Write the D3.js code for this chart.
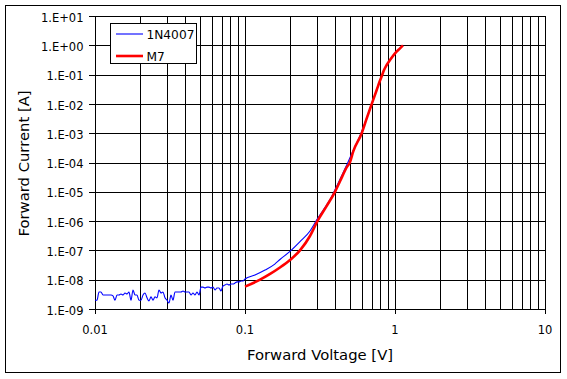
<!DOCTYPE html>
<html>
<head>
<meta charset="utf-8">
<script src="https://cdn.jsdelivr.net/npm/d3@7/dist/d3.min.js"></script>
<style>
  html, body { margin: 0; padding: 0; background: #fff; }
  svg { display: block; }
  text { font-family: "DejaVu Sans", Verdana, sans-serif; fill: #000; }
</style>
</head>
<body>
<svg id="chart" width="567" height="379"></svg>
<script>
// ---------- data ----------
const seriesNames = ["1N4007", "M7"];
const seriesColors = ["#0000ff", "#ff0000"];

const xTickValues = [0.01, 0.1, 1, 10];
const xTickLabels = ["0.01", "0.1", "1", "10"];
const yTickValues = [1e1, 1e0, 1e-1, 1e-2, 1e-3, 1e-4, 1e-5, 1e-6, 1e-7, 1e-8, 1e-9];
const yTickLabels = ["1.E+01", "1.E+00", "1.E-01", "1.E-02", "1.E-03", "1.E-04",
                     "1.E-05", "1.E-06", "1.E-07", "1.E-08", "1.E-09"];

// 1N4007 forward voltage [V]
const v1N4007 = [
  0.01000, 0.01031, 0.01063, 0.01096, 0.01131, 0.01166, 0.01202, 0.01240, 0.01279, 0.01318,
  0.01359, 0.01402, 0.01445, 0.01490, 0.01537, 0.01585, 0.01634, 0.01685, 0.01738, 0.01792,
  0.01848, 0.01905, 0.01965, 0.02026, 0.02089, 0.02154, 0.02222, 0.02291, 0.02362, 0.02436,
  0.02512, 0.02590, 0.02671, 0.02754, 0.02840, 0.02929, 0.03020, 0.03114, 0.03211, 0.03311,
  0.03415, 0.03521, 0.03631, 0.03744, 0.03861, 0.03981, 0.04105, 0.04233, 0.04365, 0.04501,
  0.04642, 0.04786, 0.04936, 0.05090, 0.05248, 0.05412, 0.05581, 0.05754, 0.05934, 0.06119,
  0.06310, 0.06506, 0.06709, 0.06918, 0.07134, 0.07356, 0.07586, 0.07822, 0.08066, 0.08318,
  0.08577, 0.08845, 0.09120, 0.09405, 0.09698, 0.1000,
  0.1166, 0.136, 0.158, 0.171, 0.1995, 0.2326, 0.2712, 0.2973, 0.3327, 0.3687,
  0.3922, 0.430, 0.457, 0.485, 0.518, 0.594, 0.646, 0.698, 0.755, 0.79,
  0.815, 0.845, 0.880, 0.926, 1.0, 1.08, 1.13
];
// 1N4007 forward current [A]
const i1N4007 = [
  2.0e-9, 2.0e-9, 3.8e-9, 3.8e-9, 3.0e-9, 3.0e-9, 3.0e-9, 3.0e-9, 3.0e-9, 2.8e-9,
  2.0e-9, 3.0e-9, 3.0e-9, 3.25e-9, 3.0e-9, 3.5e-9, 3.25e-9, 3.8e-9, 2.0e-9, 4.45e-9,
  3.0e-9, 3.0e-9, 2.0e-9, 2.0e-9, 3.0e-9, 3.5e-9, 2.4e-9, 1.9e-9, 2.6e-9, 2.0e-9,
  2.6e-9, 2.4e-9, 4.45e-9, 3.5e-9, 3.8e-9, 2.4e-9, 2.0e-9, 1.6e-9, 3.0e-9, 2.0e-9,
  3.8e-9, 3.8e-9, 3.8e-9, 3.8e-9, 4.1e-9, 3.8e-9, 3.8e-9, 3.8e-9, 3.0e-9, 3.5e-9,
  3.0e-9, 3.8e-9, 3.0e-9, 5.6e-9, 5.6e-9, 5.2e-9, 5.6e-9, 5.6e-9, 5.2e-9, 5.6e-9,
  4.45e-9, 5.2e-9, 5.2e-9, 4.1e-9, 6.1e-9, 6.6e-9, 7.1e-9, 6.6e-9, 7.1e-9, 7.1e-9,
  7.7e-9, 8.4e-9, 8.4e-9, 9.0e-9, 9.0e-9, 1.06e-8,
  1.45e-8, 2.14e-8, 3.4e-8, 4.9e-8, 9.2e-8, 1.98e-7, 4.6e-7, 1.0e-6, 2.4e-6, 5.4e-6,
  1.0e-5, 2.66e-5, 5.2e-5, 1.0e-4, 2.14e-4, 1.0e-3, 3.2e-3, 1.0e-2, 2.98e-2, 0.058,
  0.0875, 0.143, 0.213, 0.315, 0.533, 0.79, 1.0
];

// M7 forward voltage [V]
const vM7 = [0.1, 0.126, 0.147, 0.171, 0.1995, 0.2326, 0.2712, 0.304, 0.3491, 0.398,
             0.430, 0.4794, 0.5, 0.527, 0.6, 0.6477, 0.7, 0.755, 0.79, 0.815,
             0.845, 0.880, 0.926, 1.0, 1.08, 1.13];
// M7 forward current [A]
const iM7 = [5.8e-9, 1.0e-8, 1.57e-8, 2.6e-8, 4.7e-8, 1.0e-7, 3.1e-7, 1.0e-6, 3.2e-6, 1.0e-5,
             2.3e-5, 7.2e-5, 1.0e-4, 2.4e-4, 1.0e-3, 3.2e-3, 1.0e-2, 2.98e-2, 0.058, 0.0875,
             0.143, 0.213, 0.315, 0.533, 0.79, 1.0];

const xTitle = "Forward Voltage [V]";
const yTitle = "Forward Current [A]";

// ---------- layout ----------
const plot = { left: 95, right: 545, top: 16, bottom: 309 };

const svg = d3.select("#chart");

const x = d3.scaleLog().domain([0.01, 10]).range([plot.left, plot.right]);
const y = d3.scaleLog().domain([1e-9, 10]).range([plot.bottom, plot.top]);

const px = v => Math.round(v) + 0.5;

// outer frame
svg.append("rect")
  .attr("x", 5.5).attr("y", 5.5)
  .attr("width", 555).attr("height", 367)
  .attr("fill", "#fff").attr("stroke", "#000").attr("stroke-width", 1);

const grid = svg.append("g").attr("shape-rendering", "crispEdges").attr("stroke", "#000").attr("stroke-width", 1);

// vertical grid lines (all log ticks)
grid.selectAll("line.vx")
  .data(x.ticks())
  .join("line")
  .attr("class", "vx")
  .attr("x1", d => px(x(d))).attr("x2", d => px(x(d)))
  .attr("y1", plot.top).attr("y2", plot.bottom);

// horizontal grid lines (decades)
grid.selectAll("line.hy")
  .data(yTickValues)
  .join("line")
  .attr("class", "hy")
  .attr("x1", plot.left).attr("x2", plot.right)
  .attr("y1", d => px(y(d))).attr("y2", d => px(y(d)));

// plot border
grid.append("rect")
  .attr("x", px(plot.left)).attr("y", px(plot.top))
  .attr("width", Math.round(plot.right) - Math.round(plot.left))
  .attr("height", Math.round(plot.bottom) - Math.round(plot.top))
  .attr("fill", "none");

// y minor ticks
grid.selectAll("line.ym")
  .data(y.ticks())
  .join("line")
  .attr("class", "ym")
  .attr("x1", plot.left - 4).attr("x2", plot.left + 3)
  .attr("y1", d => px(y(d))).attr("y2", d => px(y(d)));

// y major ticks
grid.selectAll("line.yM")
  .data(yTickValues)
  .join("line")
  .attr("class", "yM")
  .attr("x1", plot.left - 6).attr("x2", plot.left + 3)
  .attr("y1", d => px(y(d))).attr("y2", d => px(y(d)));

// x major ticks
grid.selectAll("line.xM")
  .data(xTickValues)
  .join("line")
  .attr("class", "xM")
  .attr("x1", d => px(x(d))).attr("x2", d => px(x(d)))
  .attr("y1", plot.bottom).attr("y2", plot.bottom + 5);

// tick labels
svg.selectAll("text.yl")
  .data(yTickValues)
  .join("text")
  .attr("class", "yl")
  .attr("x", 83.5)
  .attr("y", d => y(d) + 5.6)
  .attr("text-anchor", "end")
  .attr("font-size", "11.5px")
  .text((d, i) => yTickLabels[i]);

svg.selectAll("text.xl")
  .data(xTickValues)
  .join("text")
  .attr("class", "xl")
  .attr("x", d => x(d))
  .attr("y", 334)
  .attr("text-anchor", "middle")
  .attr("font-size", "11.5px")
  .text((d, i) => xTickLabels[i]);

// axis titles
svg.append("text")
  .attr("x", (plot.left + plot.right) / 2)
  .attr("y", 359.5)
  .attr("text-anchor", "middle")
  .attr("font-size", "14.8px")
  .text(xTitle);

svg.append("text")
  .attr("transform", `translate(28.5, ${(plot.top + plot.bottom) / 2 + 1}) rotate(-90)`)
  .attr("text-anchor", "middle")
  .attr("font-size", "14.8px")
  .text(yTitle);

// series
svg.append("clipPath").attr("id", "plotclip")
  .append("rect").attr("x", plot.left).attr("y", plot.top)
  .attr("width", plot.right - plot.left).attr("height", plot.bottom - plot.top);

const line = d3.line()
  .x(d => x(d[0]))
  .y(d => y(d[1]))
  .curve(d3.curveMonotoneX);

const dataBlue = v1N4007.map((v, i) => [v, i1N4007[i]]);
const dataRed = vM7.map((v, i) => [v, iM7[i]]);

const gSeries = svg.append("g").attr("clip-path", "url(#plotclip)");
gSeries.append("path")
  .datum(dataBlue)
  .attr("d", line)
  .attr("fill", "none")
  .attr("stroke", seriesColors[0])
  .attr("stroke-width", 1.1);

gSeries.append("path")
  .datum(dataRed)
  .attr("d", line)
  .attr("fill", "none")
  .attr("stroke", seriesColors[1])
  .attr("stroke-width", 2.6);

// legend
const lg = svg.append("g");
lg.append("rect")
  .attr("x", 110.5).attr("y", 23.5)
  .attr("width", 86).attr("height", 40)
  .attr("fill", "#fff").attr("stroke", "#000").attr("stroke-width", 1)
  .attr("shape-rendering", "crispEdges");

const legendRows = [
  { name: seriesNames[0], color: seriesColors[0], width: 1.1, ly: 34, ty: 38.8 },
  { name: seriesNames[1], color: seriesColors[1], width: 2.6, ly: 56, ty: 61.3 }
];
legendRows.forEach(r => {
  lg.append("line")
    .attr("x1", 116).attr("x2", 143)
    .attr("y1", r.ly).attr("y2", r.ly)
    .attr("stroke", r.color).attr("stroke-width", r.width);
  lg.append("text")
    .attr("x", 146.5).attr("y", r.ty)
    .attr("font-size", "12.2px")
    .text(r.name);
});
</script>
</body>
</html>
